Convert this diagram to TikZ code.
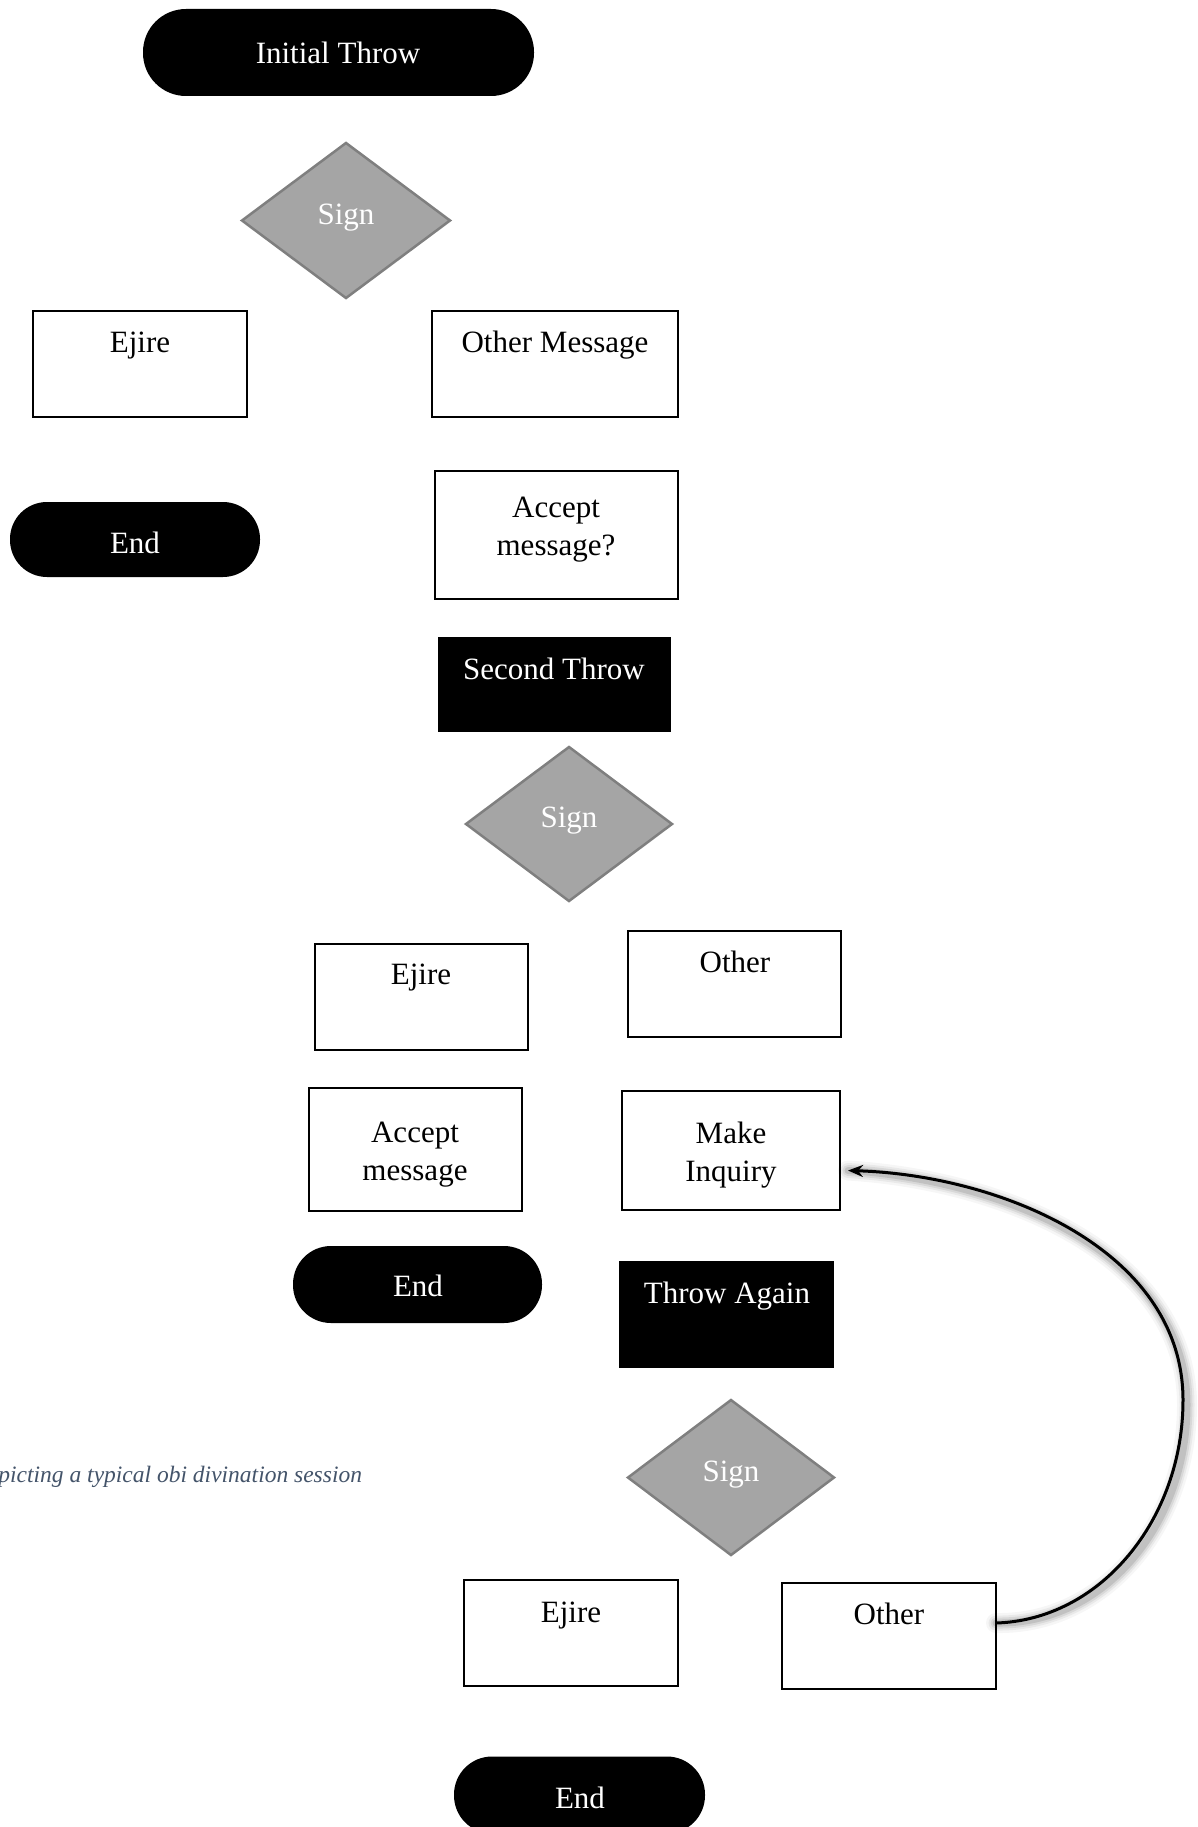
\documentclass[tikz,border=0pt]{standalone}
\usepackage{fontspec}
\setmainfont{Liberation Serif}
\usetikzlibrary{shapes.geometric,arrows.meta,calc}
\definecolor{decfill}{HTML}{A5A5A5}
\definecolor{decedge}{HTML}{7F7F7F}
\definecolor{captioncol}{HTML}{44546A}
\tikzset{
  base/.style={inner sep=0pt, outer sep=0pt},
  msgbox/.style={base, rectangle, draw=black, line width=2pt, fill=white},
  terminal/.style={base, rectangle, fill=black, rounded corners=37pt},
  blackbox/.style={base, rectangle, fill=black},
  decision/.style={base, diamond, fill=decfill, draw=decedge, line width=2.5pt},
  txt/.style={base, font=\fontsize{31}{38}\selectfont, text height=22pt, text depth=7pt, align=center},
  wtxt/.style={txt, text=white},
  loopshadow/.style={draw=black, line cap=round},
}
\begin{document}
\begin{tikzpicture}[x=1pt,y=-1pt]
\useasboundingbox (0,0) rectangle (1198,1827);
\fill[white] (0,0) rectangle (1198,1827);

% first throw
\node[terminal, minimum width=391pt, minimum height=87pt, rounded corners=43pt] (init) at (338.5,52.5) {};
\node[wtxt] (initT) at (338,56) {Initial Throw};
\node[decision, minimum width=208pt, minimum height=155pt] (sign1) at (346,220.5) {};
\node[wtxt] (sign1T) at (346,217) {Sign};
\node[msgbox, minimum width=214pt, minimum height=106pt] (ej1) at (140,364) {};
\node[txt] (ej1T) at (140,345) {Ejire};
\node[msgbox, minimum width=246pt, minimum height=106pt] (om1) at (555,364) {};
\node[txt] (om1T) at (555,345) {Other Message};
\node[terminal, minimum width=250pt, minimum height=75pt] (end1) at (135,539.5) {};
\node[wtxt] (end1T) at (135,546) {End};
\node[msgbox, minimum width=243pt, minimum height=128pt] (acc1) at (556.5,535) {};
\node[txt] (acc1T) at (556,548) {Accept\\message?};

% second throw
\node[blackbox, minimum width=233pt, minimum height=95pt] (sec) at (554.5,684.5) {};
\node[wtxt] (secT) at (554,672) {Second Throw};
\node[decision, minimum width=206pt, minimum height=154pt] (sign2) at (569,824) {};
\node[wtxt] (sign2T) at (569,820) {Sign};
\node[msgbox, minimum width=213pt, minimum height=106pt] (ej2) at (421.5,997) {};
\node[txt] (ej2T) at (421,977) {Ejire};
\node[msgbox, minimum width=213pt, minimum height=106pt] (oth2) at (734.5,984) {};
\node[txt] (oth2T) at (735,965) {Other};
\node[msgbox, minimum width=213pt, minimum height=123pt] (acc2) at (415.5,1149.5) {};
\node[txt] (acc2T) at (415,1173) {Accept\\message};
\node[msgbox, minimum width=218pt, minimum height=119pt] (inq) at (731,1150.5) {};
\node[txt] (inqT) at (731,1174) {Make\\Inquiry};
\node[terminal, minimum width=249pt, minimum height=77pt, rounded corners=38pt] (end2) at (417.5,1284.5) {};
\node[wtxt] (end2T) at (418,1289) {End};

% further throws
\node[blackbox, minimum width=215pt, minimum height=107pt] (again) at (726.5,1314.5) {};
\node[wtxt] (againT) at (727,1296) {Throw Again};
\node[decision, minimum width=206pt, minimum height=155pt] (sign3) at (731,1477.5) {};
\node[wtxt] (sign3T) at (731,1474) {Sign};
\node[msgbox, minimum width=214pt, minimum height=106pt] (ej3) at (571,1633) {};
\node[txt] (ej3T) at (571,1615) {Ejire};
\node[msgbox, minimum width=214pt, minimum height=106pt] (oth3) at (889,1636) {};
\node[txt] (oth3T) at (889,1617) {Other};
\node[terminal, minimum width=251pt, minimum height=77pt, rounded corners=38pt] (end3) at (579.5,1795) {};
\node[wtxt] (end3T) at (580,1801) {End};

% caption
\node[base, anchor=base east, font=\fontsize{23.5}{28}\selectfont\itshape, text=captioncol] (cap) at (362,1482) {picting a typical obi divination session};

% loop back from "Other" to "Make Inquiry"
\coordinate (loopA) at ($(oth3.east)+(0,-13)$);
\coordinate (loopB) at ($(inq.east)+(8,20)$);
\foreach \w/\o in {20/0.035,15/0.05,11/0.07,7/0.1} {
  \draw[loopshadow, line width=\w pt, draw opacity=\o, shift={(4,5)}]
    (loopA) .. controls (1100,1620) and (1183,1520) .. (1183,1400)
            .. controls (1183,1250) and (1000,1175) .. (loopB);
}
\draw[line width=3pt, -{Stealth[length=15pt,width=12pt]}]
  (loopA) .. controls (1100,1620) and (1183,1520) .. (1183,1400)
          .. controls (1183,1250) and (1000,1175) .. (loopB);
\end{tikzpicture}
\end{document}
